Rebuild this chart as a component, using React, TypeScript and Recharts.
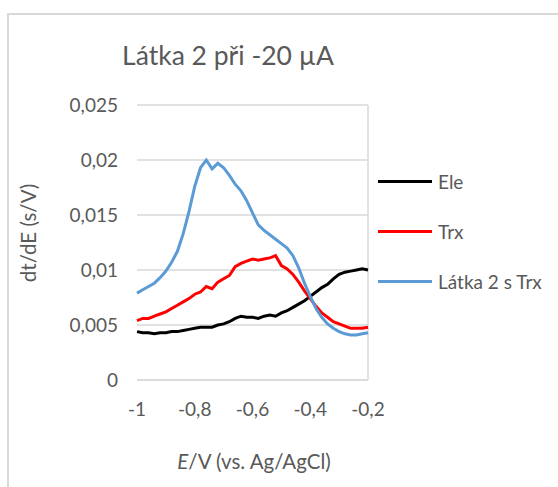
import React from 'react';
import {
  LineChart,
  Line,
  XAxis,
  YAxis,
  CartesianGrid,
  Legend,
  ReferenceLine,
} from 'recharts';

// potential E/V (vs. Ag/AgCl)
const potentials = [
  -1, -0.98, -0.96, -0.94, -0.92, -0.9, -0.88, -0.86, -0.84, -0.82, -0.8,
  -0.78, -0.76, -0.74, -0.72, -0.7, -0.68, -0.66, -0.64, -0.62, -0.6,
  -0.58, -0.56, -0.54, -0.52, -0.5, -0.48, -0.46, -0.44, -0.42, -0.4,
  -0.38, -0.36, -0.34, -0.32, -0.3, -0.28, -0.26, -0.24, -0.22, -0.2,
];

const ele = [
  0.0044, 0.0043, 0.0043, 0.0042, 0.0043, 0.0043, 0.0044, 0.0044, 0.0045, 0.0046, 0.0047,
  0.0048, 0.0048, 0.0048, 0.005, 0.0051, 0.0053, 0.0056, 0.0058, 0.0057, 0.0057,
  0.0056, 0.0058, 0.0059, 0.0058, 0.0061, 0.0063, 0.0066, 0.0069, 0.0072, 0.0076,
  0.008, 0.0084, 0.0087, 0.0092, 0.0096, 0.0098, 0.0099, 0.01, 0.0101, 0.01,
];

const trx = [
  0.0054, 0.0056, 0.0056, 0.0058, 0.006, 0.0062, 0.0065, 0.0068, 0.0071, 0.0074, 0.0078,
  0.008, 0.0085, 0.0083, 0.0089, 0.0092, 0.0095, 0.0103, 0.0106, 0.0108, 0.011,
  0.0109, 0.011, 0.0111, 0.0113, 0.0104, 0.0101, 0.0096, 0.0089, 0.0081, 0.0074,
  0.0067, 0.0061, 0.0057, 0.0053, 0.0051, 0.0049, 0.0047, 0.0047, 0.0047, 0.0048,
];

const latkaTrx = [
  0.0079, 0.0082, 0.0085, 0.0088, 0.0093, 0.0099, 0.0107, 0.0117, 0.0133, 0.0153, 0.0176,
  0.0193, 0.02, 0.0192, 0.0197, 0.0193, 0.0186, 0.0178, 0.0172, 0.0163, 0.0152,
  0.0141, 0.0136, 0.0132, 0.0128, 0.0124, 0.012, 0.0113, 0.0102, 0.0088, 0.0076,
  0.0065, 0.0057, 0.0051, 0.0047, 0.0044, 0.0042, 0.0041, 0.0041, 0.0042, 0.0043,
];

const xTicks = [-1, -0.8, -0.6, -0.4, -0.2];
const yTicks = [0, 0.005, 0.01, 0.015, 0.02, 0.025];

const series = [
  { key: 'ele', name: 'Ele', color: '#000000' },
  { key: 'trx', name: 'Trx', color: '#ff0000' },
  { key: 'latka', name: 'Látka 2 s Trx', color: '#5b9bd5' },
];

const data = potentials.map((e, i) => ({
  e,
  ele: ele[i],
  trx: trx[i],
  latka: latkaTrx[i],
}));

const FONT = 'Lato, "Liberation Sans", sans-serif';
const TEXT = '#595959';

const comma = (v: number) => String(v).replace('.', ',');

const renderLegend = () => (
  <div style={{ fontFamily: FONT, color: TEXT, fontSize: 19 }}>
    {series.map((s) => (
      <div key={s.key} style={{ display: 'flex', alignItems: 'center', height: 50 }}>
        <div style={{ width: 54, height: 3, background: s.color, marginRight: 6 }} />
        <span>{s.name}</span>
      </div>
    ))}
  </div>
);

export default function App() {
  return (
    <div
      style={{
        position: 'absolute',
        left: 0,
        top: 0,
        width: 558,
        height: 487,
        background: '#fff',
        overflow: 'hidden',
        fontFamily: FONT,
      }}
    >
      {/* chart frame, only top and left edges visible */}
      <div
        style={{
          position: 'absolute',
          left: 7,
          top: 13,
          width: 600,
          height: 600,
          borderLeft: '2px solid #d9d9d9',
          borderTop: '2px solid #d9d9d9',
        }}
      />
      <div
        style={{
          position: 'absolute',
          left: 0,
          width: 456,
          top: 39,
          textAlign: 'center',
          fontSize: 26.5,
          color: TEXT,
        }}
      >
        Látka 2 při -20 µA
      </div>
      <div
        style={{
          position: 'absolute',
          left: 28,
          top: 233,
          transform: 'translate(-50%, -50%) rotate(-90deg)',
          whiteSpace: 'nowrap',
          fontSize: 20.5,
          color: TEXT,
        }}
      >
        dt/dE (s/V)
      </div>
      <div
        style={{
          position: 'absolute',
          left: 54,
          width: 400,
          top: 449,
          textAlign: 'center',
          fontSize: 20.5,
          color: TEXT,
        }}
      >
        <i>E</i>/V (vs. Ag/AgCl)
      </div>
      <div style={{ position: 'absolute', left: 0, top: 0 }}>
        <LineChart
          width={558}
          height={487}
          data={data}
          margin={{ top: 105, right: 190, bottom: 77, left: 77 }}
        >
          <CartesianGrid horizontal vertical={false} stroke="#d9d9d9" strokeWidth={1.5} />
          <XAxis
            dataKey="e"
            type="number"
            domain={[-1, -0.2]}
            ticks={xTicks}
            tickFormatter={comma}
            height={30}
            axisLine={{ stroke: '#d9d9d9', strokeWidth: 1.5 }}
            tickLine={false}
            tickSize={0}
            tickMargin={23}
            tick={{ fill: TEXT, fontSize: 19, fontFamily: FONT }}
          />
          <YAxis
            type="number"
            domain={[0, 0.025]}
            ticks={yTicks}
            tickFormatter={comma}
            width={60}
            axisLine={false}
            tickLine={false}
            tickSize={0}
            tickMargin={19}
            tick={{ fill: TEXT, fontSize: 19, fontFamily: FONT }}
          />
          <ReferenceLine x={-0.2} stroke="#d9d9d9" strokeWidth={1.5} />
          {series.map((s) => (
            <Line
              key={s.key}
              dataKey={s.key}
              name={s.name}
              stroke={s.color}
              strokeWidth={3}
              dot={false}
              type="linear"
              isAnimationActive={false}
            />
          ))}
          <Legend
            layout="vertical"
            align="center"
            verticalAlign="middle"
            content={renderLegend}
            wrapperStyle={{ left: 378, top: 156, width: 180, bottom: 'auto', right: 'auto' }}
          />
        </LineChart>
      </div>
    </div>
  );
}
